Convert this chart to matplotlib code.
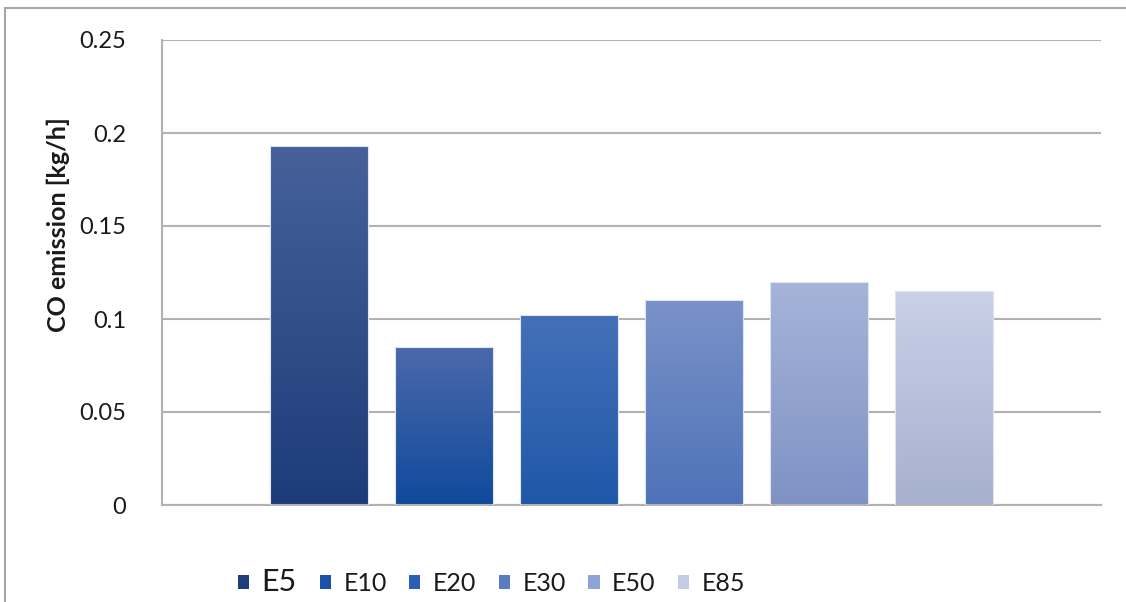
import numpy as np
import matplotlib
matplotlib.use("Agg")
import matplotlib.pyplot as plt
from matplotlib.colors import LinearSegmentedColormap
from matplotlib.lines import Line2D
from matplotlib.patches import Rectangle

plt.rcParams['font.family'] = ['Lato', 'DejaVu Sans']

# CO emission for each ethanol blend
blends = ['E5', 'E10', 'E20', 'E30', 'E50', 'E85']
co_emission = [0.193, 0.085, 0.102, 0.110, 0.120, 0.115]

# gradient colours per bar (top, bottom) and the legend swatch colour
top_colors = ['#46619a', '#4b69ab', '#4570b8', '#7a92c8', '#a6b4d9', '#c9d0e7']
bottom_colors = ['#1c3c78', '#0f4a9c', '#1e58a8', '#4e72b8', '#7f92c4', '#a6b0cf']
legend_colors = ['#1e3f7c', '#1a52a8', '#2a5fb5', '#5a7bc0', '#8fa3d4', '#c3cbe5']

y_ticks = [0, 0.05, 0.1, 0.15, 0.2, 0.25]
y_tick_labels = ['0', '0.05', '0.1', '0.15', '0.2', '0.25']

W, H = 1126, 602
fig = plt.figure(figsize=(W / 100, H / 100), dpi=100)
ax = fig.add_axes([162 / W, (H - 505) / H, (1101 - 162) / W, (505 - 40) / H])

# one category, six series clustered around its centre
slot = 125 / 939
width = 98 / 939
n = len(blends)
xs = [0.5 + (i - (n - 1) / 2) * slot for i in range(n)]

bars = ax.bar(xs, co_emission, width=width, color='none',
              edgecolor='#dde4f2', linewidth=0.8, zorder=3)

grad = np.linspace(0, 1, 256).reshape(-1, 1)
for bar, top, bot in zip(bars, top_colors, bottom_colors):
    x0, y0 = bar.get_x(), bar.get_y()
    cmap = LinearSegmentedColormap.from_list('g', [bot, top])
    im = ax.imshow(grad, cmap=cmap, origin='lower', aspect='auto',
                   extent=[x0, x0 + bar.get_width(), y0, y0 + bar.get_height()],
                   zorder=2, interpolation='bilinear')
    im.set_clip_path(bar)

ax.set_xlim(0, 1)
ax.set_ylim(0, 0.25)
ax.set_yticks(y_ticks)
ax.set_yticklabels(y_tick_labels)
ax.set_xticks([])
ax.tick_params(axis='y', length=0, pad=26, labelsize=17, colors='#1a1a1a')
ax.yaxis.grid(True, color='#b2b2b2', linewidth=1.5, zorder=1)
ax.set_axisbelow(True)

for side in ['top', 'right']:
    ax.spines[side].set_visible(False)
for side in ['left', 'bottom']:
    ax.spines[side].set_color('#b2b2b2')
    ax.spines[side].set_linewidth(1.5)

fig.text(58 / W, 1 - 225 / H, 'CO emission [kg/h]', rotation=90,
         fontsize=18, fontweight='bold', ha='center', va='center',
         color='#1a1a1a')

# legend below the plot
handles = [Rectangle((0, 0), 1, 1, facecolor=c, edgecolor='none')
           for c in legend_colors]
leg = fig.legend(handles, blends, loc='center left',
                 bbox_to_anchor=(228 / W, 1 - 582 / H), ncol=n, frameon=False,
                 fontsize=18, handlelength=0.45, handleheight=0.45,
                 handletextpad=0.5, columnspacing=0.9, borderaxespad=0)
for t in leg.get_texts():
    t.set_color('#1a1a1a')
leg.get_texts()[0].set_fontsize(22)

# chart border (top and left edges only)
fig.add_artist(Line2D([5 / W, 1], [1 - 8 / H, 1 - 8 / H], color='#a6a6a6',
                      linewidth=1.5, transform=fig.transFigure))
fig.add_artist(Line2D([5 / W, 5 / W], [0, 1 - 8 / H], color='#a6a6a6',
                      linewidth=1.5, transform=fig.transFigure))

fig.savefig('out.png', dpi=100)
